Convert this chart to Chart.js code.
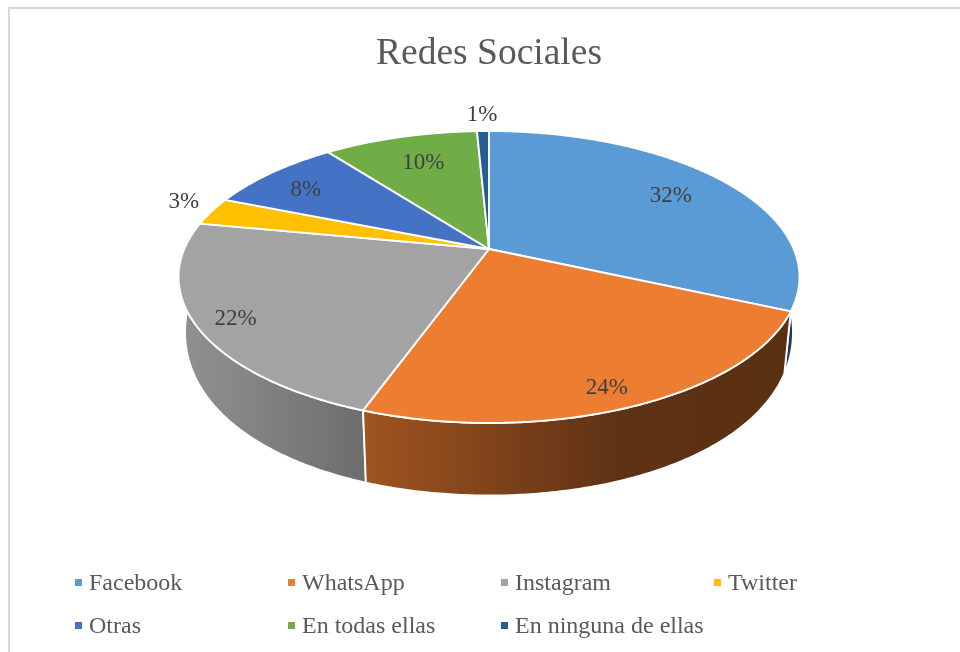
<!DOCTYPE html>
<html lang="es">
<head>
<meta charset="utf-8">
<title>Redes Sociales</title>
<script src="https://cdn.jsdelivr.net/npm/chart.js@4"></script>
<style>
  html, body { margin: 0; padding: 0; background: #fff; overflow: hidden; }
  #stage { position: relative; width: 960px; height: 652px; }
  #frame { position: absolute; left: 8px; top: 7px; right: 0; bottom: 0; border-left: 2px solid #d9d9d9; border-top: 2px solid #d9d9d9; }
  canvas { position: absolute; left: 0; top: 0; }
  #legend { position: absolute; left: 75px; top: 561px; display: grid; grid-template-columns: repeat(4, 213px); grid-auto-rows: 43px;
    font: 24px "Liberation Serif", serif; color: #595959; }
  #legend div { display: flex; align-items: center; white-space: nowrap; }
  #legend i { width: 7px; height: 7px; margin-right: 7px; flex: none; }
</style>
</head>
<body>
<div id="stage">
  <div id="frame"></div>
  <canvas id="pie" width="960" height="652"></canvas>
  <div id="legend"></div>
</div>
<script>
const categories = ["Facebook", "WhatsApp", "Instagram", "Twitter", "Otras", "En todas ellas", "En ninguna de ellas"];
const shares = [31.7, 23.8, 22.49, 3.11, 8.49, 9.66, 0.75];
const colors = ["#5B9BD5", "#ED7D31", "#A3A3A3", "#FFC000", "#4472C4", "#70AD47", "#255E91"];

const serif = '"Liberation Serif", serif';

// label placement, as a fraction of the radius and a turn in degrees from the slice middle
const labelRadius = [0.768, 0.887, 0.882, 1.136, 0.808, 0.744, 1.188];
const labelTurn = [0, 1.5, -0.7, 2.8, -1.5, 0.9, 0];

// side wall goes darker from left to right
const sideShade = [[0.016, 0.88], [0.298, 0.67], [0.71, 0.4], [1, 0.38]];

// perspective of the top and bottom disc, relative to the pie radius
function discs(arc) {
  const k = arc.outerRadius;
  return {
    top: { x: arc.x, y: arc.y, b: 1.803 * k, a: 0.832 * k, px: 0.1918, py: 0.1918 },
    bottom: { x: arc.x, y: arc.y + 0.29 * k, b: 1.766 * k, a: 1.052 * k, px: 0.19, py: 0.1 },
  };
}

function project(d, angle, r = 1) {
  const u = Math.cos(angle) * r;
  const v = Math.sin(angle) * r;
  return [d.x + (d.b * u) / (1 - d.px * v), d.y + (d.a * v) / (1 - d.py * v)];
}

function rim(d, from, to) {
  const n = Math.max(2, Math.ceil(Math.abs(to - from) / 0.01));
  const pts = [];
  for (let i = 0; i <= n; i++) pts.push(project(d, from + ((to - from) * i) / n));
  return pts;
}

function shape(ctx, pts) {
  ctx.beginPath();
  pts.forEach((p, i) => (i ? ctx.lineTo(p[0], p[1]) : ctx.moveTo(p[0], p[1])));
  ctx.closePath();
}

function sideFill(ctx, hex, left, right) {
  const c = [1, 3, 5].map((i) => parseInt(hex.slice(i, i + 2), 16));
  const g = ctx.createLinearGradient(left, 0, right, 0);
  sideShade.forEach(([at, f]) => g.addColorStop(at, `rgb(${c.map((v) => Math.round(v * f)).join(",")})`));
  return g;
}

const tiltedPie = {
  id: "tiltedPie",
  beforeDatasetDraw(chart, args) {
    const { ctx } = chart;
    const arcs = args.meta.data;
    ctx.save();
    ctx.strokeStyle = "#fff";
    ctx.lineWidth = 1.9;
    ctx.lineJoin = "round";

    // walls, furthest ones first so the front ones cover them
    const order = arcs.map((_, i) => i).sort((a, b) => {
      const mid = (i) => Math.sin((arcs[i].startAngle + arcs[i].endAngle) / 2);
      return mid(a) - mid(b);
    });
    order.forEach((i) => {
      const { top, bottom } = discs(arcs[i]);
      const pts = rim(top, arcs[i].startAngle, arcs[i].endAngle).concat(rim(bottom, arcs[i].endAngle, arcs[i].startAngle));
      shape(ctx, pts);
      ctx.fillStyle = sideFill(ctx, colors[i], top.x - top.b, top.x + top.b);
      ctx.fill();
      ctx.stroke();
    });

    // top face
    arcs.forEach((arc, i) => {
      const { top } = discs(arc);
      shape(ctx, [[top.x, top.y], ...rim(top, arc.startAngle, arc.endAngle)]);
      ctx.fillStyle = colors[i];
      ctx.fill();
      ctx.stroke();
    });

    // value labels
    ctx.font = `23px ${serif}`;
    ctx.fillStyle = "#404040";
    ctx.textAlign = "center";
    ctx.textBaseline = "middle";
    arcs.forEach((arc, i) => {
      const { top } = discs(arc);
      const mid = (arc.startAngle + arc.endAngle) / 2 + (labelTurn[i] * Math.PI) / 180;
      const [x, y] = project(top, mid, labelRadius[i]);
      ctx.fillText(`${Math.round(shares[i])}%`, x, y + 1.5);
    });
    ctx.restore();
    return false;
  },
};

new Chart(document.getElementById("pie"), {
  type: "pie",
  data: { labels: categories, datasets: [{ data: shares, backgroundColor: colors, borderWidth: 0 }] },
  options: {
    responsive: false,
    animation: false,
    layout: { padding: { left: 18, right: 0, top: 0, bottom: 234 } },
    plugins: {
      legend: { display: false },
      tooltip: { enabled: false },
      title: {
        display: true,
        text: "Redes Sociales",
        color: "#595959",
        font: { family: serif, size: 37.5, weight: "normal" },
        padding: { top: 31.5, bottom: 3.5 },
      },
    },
  },
  plugins: [tiltedPie],
});

document.getElementById("legend").innerHTML = categories
  .map((name, i) => `<div><i style="background:${colors[i]}"></i>${name}</div>`)
  .join("");
</script>
</body>
</html>
